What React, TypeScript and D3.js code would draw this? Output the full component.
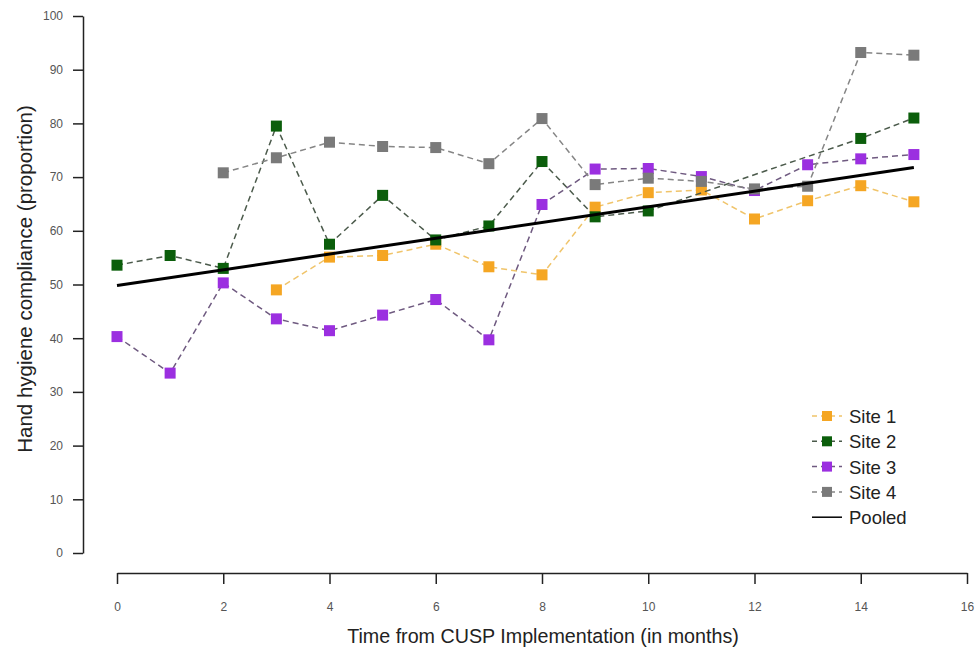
import { useEffect, useRef } from 'react';
import * as d3 from 'd3';

// months since CUSP implementation
const months = [0, 1, 2, 3, 4, 5, 6, 7, 8, 9, 10, 11, 12, 13, 14, 15];

// compliance per site (null = no observation that month)
const site1 = [null, null, null, 49.0, 55.1, 55.4, 57.5, 53.3, 51.8, 64.4, 67.1, 67.6, 62.2, 65.6, 68.4, 65.4];
const site2 = [53.6, 55.4, 53.0, 79.5, 57.5, 66.6, 58.3, 60.9, 72.9, 62.6, 63.7, null, null, null, 77.2, 81.0];
const site3 = [40.3, 33.5, 50.3, 43.6, 41.4, 44.3, 47.2, 39.7, 64.9, 71.5, 71.6, 70.1, 67.5, 72.3, 73.4, 74.2];
const site4 = [null, null, 70.8, 73.6, 76.5, 75.7, 75.5, 72.5, 80.9, 68.6, 69.8, 69.2, 67.8, 68.3, 93.2, 92.7];

// pooled fit, endpoints only
const pooledMonths = [0, 15];
const pooledValues = [49.8, 71.8];

const xTicks = [0, 2, 4, 6, 8, 10, 12, 14, 16];
const yTicks = [0, 10, 20, 30, 40, 50, 60, 70, 80, 90, 100];

const seriesNames = ['Site 1', 'Site 2', 'Site 3', 'Site 4'];
const seriesValues = [site1, site2, site3, site4];
const markerColors = ['#f5a623', '#0b5e0b', '#9b2fe0', '#7a7a7a'];
const lineColors = ['#f0c46a', '#4b5a4b', '#6f5a80', '#858585'];

const App = () => {
  const ref = useRef<HTMLDivElement>(null);

  useEffect(() => {
    document.body.style.margin = '0';
    d3.select(ref.current).selectAll('*').remove();

    const width = 978; const height = 647;
    const font = 'Liberation Sans, Arial, sans-serif';

    const x = d3.scaleLinear().domain([0, 16]).range([117, 967]);
    const y = d3.scaleLinear().domain([0, 100]).range([553, 16]);

    const svg = d3.select(ref.current)
      .append('svg')
      .attr('width', width)
      .attr('height', height)
      .style('display', 'block')
      .style('background', '#fff');

    // y axis
    const yAxis = svg.append('g')
      .attr('transform', 'translate(83,0)')
      .call(d3.axisLeft(y).tickValues(yTicks).tickSize(10).tickPadding(10).tickSizeOuter(0));
    yAxis.select('.domain').attr('stroke', '#222').attr('stroke-width', 1.5);
    yAxis.selectAll('.tick line').attr('stroke', '#222').attr('stroke-width', 1.5);
    yAxis.selectAll('.tick text')
      .attr('font-family', font).attr('font-size', 12).attr('fill', '#555');

    // x axis
    const xAxis = svg.append('g')
      .attr('transform', 'translate(0,573)')
      .call(d3.axisBottom(x).tickValues(xTicks).tickSize(11).tickPadding(18).tickSizeOuter(0));
    xAxis.select('.domain').attr('stroke', '#222').attr('stroke-width', 1.5);
    xAxis.selectAll('.tick line').attr('stroke', '#222').attr('stroke-width', 1.5);
    xAxis.selectAll('.tick text')
      .attr('font-family', font).attr('font-size', 12).attr('fill', '#555');

    // axis titles
    svg.append('text')
      .attr('x', 543).attr('y', 643)
      .attr('text-anchor', 'middle')
      .attr('font-family', font).attr('font-size', 19.7).attr('fill', '#222')
      .text('Time from CUSP Implementation (in months)');

    svg.append('text')
      .attr('transform', 'translate(32,279) rotate(-90)')
      .attr('text-anchor', 'middle')
      .attr('font-family', font).attr('font-size', 20.5).attr('fill', '#222')
      .text('Hand hygiene compliance (proportion)');

    const line = d3.line<[number, number]>()
      .x(d => x(d[0]))
      .y(d => y(d[1]));

    const sq = 11;

    seriesValues.forEach((vals, i) => {
      const pts = months
        .map((m, j) => [m, vals[j]] as [number, number | null])
        .filter(d => d[1] !== null) as [number, number][];

      svg.append('path')
        .datum(pts)
        .attr('d', line)
        .attr('fill', 'none')
        .attr('stroke', lineColors[i])
        .attr('stroke-width', 1.5)
        .attr('stroke-dasharray', '6,4');

      svg.append('g').selectAll('rect')
        .data(pts)
        .enter()
        .append('rect')
        .attr('x', d => x(d[0]) - sq / 2)
        .attr('y', d => y(d[1]) - sq / 2)
        .attr('width', sq)
        .attr('height', sq)
        .attr('fill', markerColors[i]);
    });

    // pooled trend
    svg.append('path')
      .datum(pooledMonths.map((m, j) => [m, pooledValues[j]] as [number, number]))
      .attr('d', line)
      .attr('fill', 'none')
      .attr('stroke', '#000')
      .attr('stroke-width', 3);

    // legend
    const legend = svg.append('g').attr('transform', 'translate(812,416)');
    const rowH = 25.3;
    const lsq = 10;
    seriesNames.concat(['Pooled']).forEach((name, i) => {
      const row = legend.append('g').attr('transform', `translate(0,${i * rowH})`);
      if (i < 4) {
        row.append('line')
          .attr('x1', 0).attr('x2', 30).attr('y1', 0).attr('y2', 0)
          .attr('stroke', lineColors[i]).attr('stroke-width', 1.5)
          .attr('stroke-dasharray', '5,4');
        row.append('rect')
          .attr('x', 15 - lsq / 2).attr('y', -lsq / 2)
          .attr('width', lsq).attr('height', lsq)
          .attr('fill', markerColors[i]);
      } else {
        row.append('line')
          .attr('x1', 0).attr('x2', 30).attr('y1', 0).attr('y2', 0)
          .attr('stroke', '#000').attr('stroke-width', 1.5);
      }
      row.append('text')
        .attr('x', 37).attr('y', 7)
        .attr('font-family', font).attr('font-size', 18.5).attr('fill', '#222')
        .text(name);
    });
  }, []);

  return <div ref={ref}></div>;
};

export default App;
